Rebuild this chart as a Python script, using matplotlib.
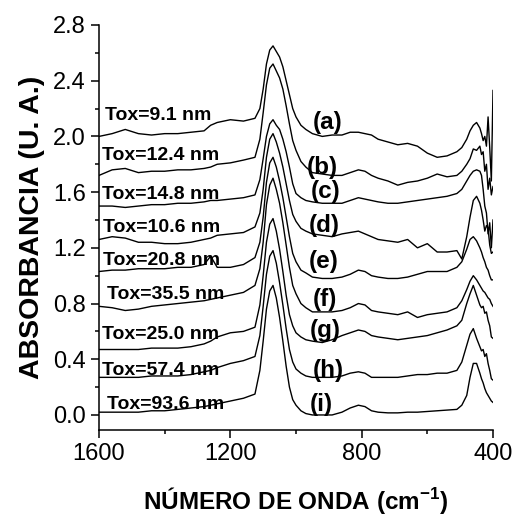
import matplotlib
matplotlib.use('Agg')
import matplotlib.pyplot as plt
from matplotlib.ticker import MultipleLocator

# Style
plt.rcParams['font.family'] = ['Liberation Sans', 'DejaVu Sans']
plt.rcParams['mathtext.fontset'] = 'custom'
plt.rcParams['mathtext.rm'] = 'Liberation Sans'
plt.rcParams['mathtext.bf'] = 'Liberation Sans:bold'

# Wavenumber grid (cm-1) shared by all spectra
wavenumber = [1600, 1560, 1520, 1480, 1440, 1400, 1360, 1320, 1280, 1260, 1240, 1200, 1160, 1125,
              1110, 1100, 1090, 1080, 1070, 1060, 1050, 1040, 1030, 1020, 1010, 1000, 985, 970, 950,
              920, 890, 860, 835, 810, 790, 770, 750, 720, 690, 660, 630, 600, 570, 540, 510,
              495, 480, 470, 460, 450, 440, 435, 430, 425, 420, 415, 410, 405, 400]

# Absorbance (curves already offset)
abs_a = [2.00, 2.02, 2.05, 2.02, 2.01, 2.02, 2.02, 2.03, 2.04, 2.08, 2.10, 2.12, 2.11, 2.13,
         2.20, 2.34, 2.52, 2.62, 2.65, 2.61, 2.57, 2.50, 2.40, 2.30, 2.20, 2.14, 2.08, 2.05, 2.02,
         2.00, 2.01, 2.01, 2.03, 2.03, 2.02, 2.01, 1.98, 1.96, 1.94, 1.95, 1.93, 1.88, 1.85, 1.86, 1.89,
         1.92, 1.98, 2.04, 2.08, 2.10, 2.06, 2.02, 1.97, 2.00, 1.93, 2.14, 1.92, 1.68, 2.33]
abs_b = [1.72, 1.76, 1.77, 1.74, 1.75, 1.75, 1.76, 1.76, 1.77, 1.78, 1.80, 1.81, 1.83, 1.85,
         1.98, 2.17, 2.37, 2.49, 2.52, 2.47, 2.42, 2.34, 2.22, 2.09, 1.97, 1.90, 1.82, 1.78, 1.74,
         1.73, 1.72, 1.72, 1.74, 1.76, 1.75, 1.72, 1.70, 1.68, 1.65, 1.67, 1.68, 1.70, 1.73, 1.71, 1.72,
         1.75, 1.80, 1.84, 1.91, 1.90, 1.93, 1.87, 1.89, 1.75, 1.80, 1.62, 1.70, 1.58, 1.64]
abs_c = [1.50, 1.50, 1.49, 1.50, 1.51, 1.51, 1.52, 1.52, 1.53, 1.54, 1.54, 1.55, 1.56, 1.58,
         1.69, 1.84, 2.00, 2.09, 2.12, 2.08, 2.05, 1.98, 1.89, 1.78, 1.66, 1.59, 1.56, 1.54, 1.53,
         1.52, 1.52, 1.52, 1.54, 1.56, 1.55, 1.54, 1.53, 1.52, 1.52, 1.53, 1.54, 1.55, 1.56, 1.57, 1.59,
         1.62, 1.68, 1.72, 1.75, 1.76, 1.75, 1.72, 1.62, 1.50, 1.45, 1.30, 1.38, 1.20, 1.40]
abs_d = [1.26, 1.28, 1.27, 1.24, 1.24, 1.23, 1.23, 1.24, 1.26, 1.27, 1.29, 1.30, 1.31, 1.35,
         1.45, 1.62, 1.85, 1.98, 2.02, 1.96, 1.88, 1.78, 1.66, 1.54, 1.44, 1.39, 1.34, 1.32, 1.30,
         1.29, 1.28, 1.30, 1.31, 1.32, 1.30, 1.28, 1.26, 1.25, 1.24, 1.26, 1.20, 1.23, 1.17, 1.17, 1.18,
         1.12, 1.28, 1.42, 1.54, 1.57, 1.52, 1.47, 1.40, 1.32, 1.36, 1.34, 1.22, 1.16, 1.17]
abs_e = [1.03, 1.04, 1.04, 1.05, 1.05, 1.05, 1.06, 1.06, 1.08, 1.14, 1.06, 1.06, 1.08, 1.13,
         1.24, 1.42, 1.67, 1.81, 1.85, 1.78, 1.68, 1.56, 1.42, 1.28, 1.16, 1.10, 1.04, 1.02, 0.99,
         0.98, 0.98, 0.99, 1.01, 1.04, 1.03, 1.00, 0.99, 0.98, 0.98, 0.99, 1.01, 1.03, 1.03, 1.03, 1.06,
         1.10, 1.19, 1.26, 1.28, 1.25, 1.20, 1.17, 1.13, 1.10, 1.06, 1.04, 1.00, 0.97, 0.97]
abs_f = [0.78, 0.77, 0.75, 0.76, 0.78, 0.79, 0.80, 0.81, 0.82, 0.83, 0.84, 0.86, 0.88, 0.93,
         1.05, 1.24, 1.51, 1.65, 1.70, 1.62, 1.52, 1.38, 1.22, 1.06, 0.93, 0.87, 0.80, 0.77, 0.74,
         0.74, 0.74, 0.75, 0.77, 0.80, 0.79, 0.75, 0.74, 0.73, 0.72, 0.74, 0.70, 0.72, 0.73, 0.74, 0.77,
         0.82, 0.90, 0.96, 1.00, 0.97, 0.93, 0.91, 0.89, 0.88, 0.86, 0.84, 0.83, 0.80, 0.78]
abs_g = [0.47, 0.47, 0.47, 0.47, 0.48, 0.48, 0.48, 0.49, 0.51, 0.53, 0.56, 0.59, 0.60, 0.63,
         0.79, 1.00, 1.24, 1.37, 1.41, 1.32, 1.19, 1.03, 0.86, 0.72, 0.64, 0.59, 0.56, 0.54, 0.53,
         0.52, 0.54, 0.57, 0.59, 0.61, 0.60, 0.57, 0.56, 0.55, 0.54, 0.55, 0.56, 0.57, 0.59, 0.61, 0.64,
         0.68, 0.80, 0.87, 0.93, 0.86, 0.79, 0.77, 0.78, 0.73, 0.74, 0.68, 0.64, 0.56, 0.55]
abs_h = [0.27, 0.27, 0.27, 0.27, 0.28, 0.28, 0.28, 0.29, 0.31, 0.32, 0.34, 0.37, 0.39, 0.42,
         0.57, 0.78, 1.01, 1.14, 1.18, 1.09, 0.95, 0.79, 0.62, 0.47, 0.38, 0.33, 0.30, 0.28, 0.27,
         0.27, 0.27, 0.28, 0.30, 0.31, 0.30, 0.27, 0.27, 0.27, 0.27, 0.28, 0.29, 0.29, 0.30, 0.30, 0.32,
         0.38, 0.50, 0.58, 0.62, 0.55, 0.49, 0.46, 0.47, 0.42, 0.44, 0.37, 0.32, 0.26, 0.25]
abs_i = [0.02, 0.02, 0.02, 0.02, 0.03, 0.03, 0.04, 0.05, 0.06, 0.07, 0.08, 0.10, 0.12, 0.15,
         0.32, 0.53, 0.76, 0.89, 0.93, 0.84, 0.70, 0.53, 0.35, 0.20, 0.11, 0.07, 0.03, 0.01, 0.00,
         0.00, 0.00, 0.02, 0.05, 0.07, 0.06, 0.03, 0.02, 0.015, 0.015, 0.02, 0.02, 0.025, 0.03, 0.035, 0.04,
         0.07, 0.14, 0.27, 0.37, 0.37, 0.30, 0.26, 0.23, 0.19, 0.16, 0.14, 0.12, 0.10, 0.09]

spectra = [abs_a, abs_b, abs_c, abs_d, abs_e, abs_f, abs_g, abs_h, abs_i]
letters = ['(a)', '(b)', '(c)', '(d)', '(e)', '(f)', '(g)', '(h)', '(i)']
thickness = ['Tox=9.1 nm', 'Tox=12.4 nm', 'Tox=14.8 nm', 'Tox=10.6 nm', 'Tox=20.8 nm',
             'Tox=35.5 nm', 'Tox=25.0 nm', 'Tox=57.4 nm', 'Tox=93.6 nm']

# Label anchor positions (data coords, text baseline)
tox_x = [1582, 1591, 1591, 1588, 1588, 1576, 1591, 1591, 1576]
tox_y = [2.118, 1.831, 1.551, 1.314, 1.077, 0.833, 0.546, 0.287, 0.043]
let_x = [948, 966, 954, 960, 960, 948, 957, 948, 957]
let_y = [2.053, 1.730, 1.558, 1.314, 1.055, 0.782, 0.560, 0.273, 0.029]

fig = plt.figure(figsize=(5.17, 5.16), dpi=100)
ax = fig.add_axes([99 / 517, 86 / 516, 394 / 517, 405 / 516])

for y in spectra:
    ax.plot(wavenumber, y, color='black', linewidth=1.0)

for i in range(len(spectra)):
    ax.text(tox_x[i], tox_y[i], thickness[i], fontsize=14, fontweight='bold',
            ha='left', va='baseline')
    ax.text(let_x[i], let_y[i], letters[i], fontsize=17.5, fontweight='bold',
            ha='left', va='baseline')

ax.set_xlim(1600, 400)
ax.set_ylim(-0.108, 2.8)
ax.xaxis.set_major_locator(MultipleLocator(400))
ax.xaxis.set_minor_locator(MultipleLocator(200))
ax.yaxis.set_major_locator(MultipleLocator(0.4))
ax.yaxis.set_minor_locator(MultipleLocator(0.2))
ax.yaxis.set_major_formatter(plt.FormatStrFormatter('%.1f'))

for side in ['top', 'right']:
    ax.spines[side].set_visible(False)
for side in ['left', 'bottom']:
    ax.spines[side].set_linewidth(1.1)

ax.tick_params(which='major', direction='out', length=5.5, width=1.1, labelsize=17, pad=4)
ax.tick_params(which='minor', direction='out', length=3, width=1.1)

ax.set_xlabel(r'NÚMERO DE ONDA (cm$^{\mathbf{-1}}$)', fontsize=17.5, fontweight='bold', labelpad=14)
ax.set_ylabel('ABSORBANCIA (U. A.)', fontsize=20.5, fontweight='bold', labelpad=6)

fig.savefig('out.png', dpi=100)
